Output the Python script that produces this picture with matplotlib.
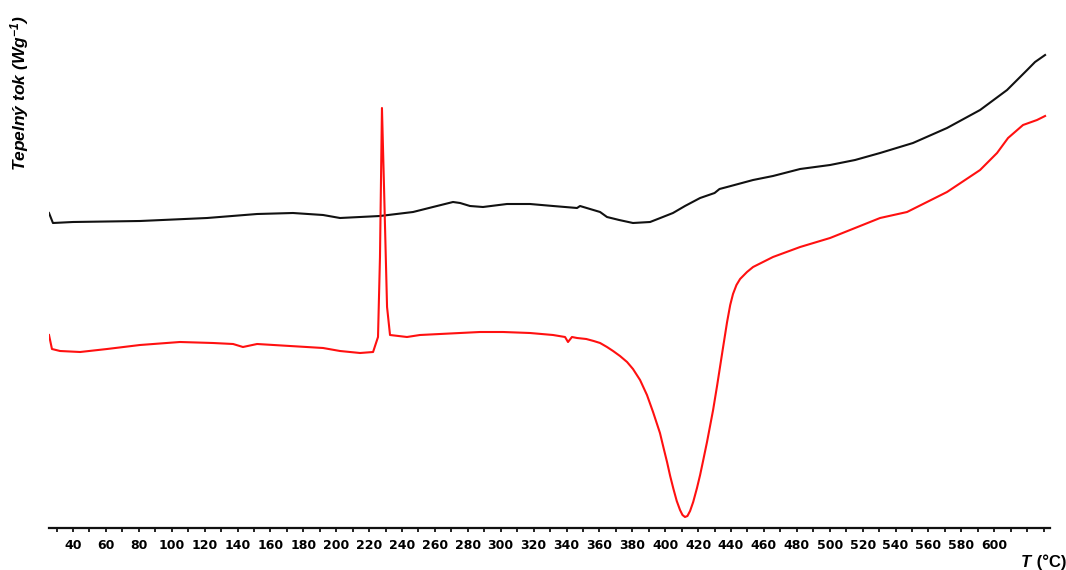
import matplotlib
matplotlib.use("Agg")
import matplotlib.pyplot as plt

# ---- data (temperature in °C, heat flow in arbitrary W/g units) ----
black_T = [25.4, 27.8, 40.0, 80.7, 121.5, 151.9, 173.7, 192.0, 202.3, 214.5,
           226.6, 246.7, 258.8, 271.0, 275.3, 281.3, 289.2, 303.8, 317.8, 331.8,
           346.4, 348.2, 360.4, 364.6, 372.0, 380.4, 390.8, 397.0, 404.7, 412.0,
           421.2, 430.0, 433.0, 437.6, 453.4, 465.5, 482.0, 500.2, 515.4, 530.6,
           550.6, 571.3, 591.4, 607.8, 620.0, 624.8, 630.9]
black_v = [3.15, 3.05, 3.06, 3.07, 3.10, 3.14, 3.15, 3.13, 3.10, 3.11,
           3.12, 3.16, 3.21, 3.26, 3.25, 3.22, 3.21, 3.24, 3.24, 3.22,
           3.20, 3.22, 3.16, 3.11, 3.08, 3.05, 3.06, 3.10, 3.15, 3.22,
           3.30, 3.35, 3.39, 3.41, 3.48, 3.52, 3.59, 3.63, 3.68, 3.75,
           3.85, 4.00, 4.18, 4.38, 4.58, 4.66, 4.73]

red_T = [25.4, 27.2, 32.1, 44.3, 60.7, 80.7, 105.0, 125.1, 137.3, 143.3,
         151.9, 171.9, 192.0, 202.3, 214.5, 222.4, 225.4, 226.6, 227.8, 229.1,
         230.9, 232.7, 243.0, 250.9, 287.4, 301.4, 317.8, 331.8, 339.1, 340.9,
         343.3, 346.4, 352.0, 356.5, 360.4, 364.6, 368.3, 372.5, 376.8, 380.4,
         384.7, 388.9, 392.6, 396.8, 399.0, 401.1, 403.0, 405.0, 407.0, 409.0,
         410.5, 412.0, 413.5, 415.1, 417.0, 419.3, 421.2, 423.0, 425.4, 429.1,
         431.5, 435.1, 437.6, 439.5, 441.2, 443.3, 445.5, 449.7, 453.4, 465.5,
         482.0, 500.2, 515.4, 530.6, 547.0, 571.3, 591.4, 601.7, 608.4, 617.5,
         626.0, 630.9]
red_v = [1.93, 1.79, 1.77, 1.76, 1.79, 1.83, 1.86, 1.85, 1.84, 1.81,
         1.84, 1.82, 1.80, 1.77, 1.75, 1.76, 1.91, 2.71, 4.20, 3.38,
         2.21, 1.93, 1.91, 1.93, 1.96, 1.96, 1.95, 1.93, 1.91, 1.86,
         1.91, 1.90, 1.89, 1.87, 1.85, 1.81, 1.77, 1.72, 1.66, 1.59,
         1.48, 1.33, 1.16, 0.95, 0.80, 0.66, 0.52, 0.39, 0.27, 0.18,
         0.13, 0.11, 0.12, 0.17, 0.26, 0.40, 0.53, 0.67, 0.86, 1.18,
         1.42, 1.80, 2.06, 2.23, 2.34, 2.43, 2.49, 2.56, 2.61, 2.71,
         2.81, 2.90, 3.00, 3.10, 3.16, 3.36, 3.58, 3.75, 3.90, 4.03,
         4.08, 4.12]

tick_values = list(range(30, 631, 10))
tick_labels = [str(t) if (t % 20 == 0 and 40 <= t <= 600) else "" for t in tick_values]

y_label = "Tepelný tok (Wg$^{-1}$)"

# ---- figure ----
plt.rcParams['mathtext.fontset'] = 'custom'
plt.rcParams['mathtext.rm'] = 'Liberation Sans:italic:bold'
plt.rcParams['mathtext.it'] = 'Liberation Sans:italic:bold'
plt.rcParams['mathtext.bf'] = 'Liberation Sans:italic:bold'
plt.rcParams['mathtext.default'] = 'rm'

W, H = 1066, 570
fig = plt.figure(figsize=(W / 100, H / 100), dpi=100)
ax = fig.add_axes([49 / W, 1 - 528 / H, (1050 - 49) / W, (528 - 40) / H])

ax.plot(black_T, black_v, color='#111111', lw=1.5, solid_joinstyle='round')
ax.plot(red_T, red_v, color='#ff1010', lw=1.5, solid_joinstyle='round')

ax.set_xlim(25.4, 633.9)
ax.set_ylim(0, 4.88)

for s in ['top', 'right', 'left']:
    ax.spines[s].set_visible(False)
ax.spines['bottom'].set_linewidth(1.6)
ax.spines['bottom'].set_color('#111111')

ax.set_yticks([])
ax.set_xticks(tick_values)
ax.set_xticklabels(tick_labels, fontfamily='DejaVu Sans', fontweight='bold', fontsize=9)
ax.tick_params(axis='x', direction='out', length=3, width=1.3, pad=5, color='#111111')

fig.text(20 / W, 1 - 93 / H, y_label, rotation=90, ha='center', va='center',
         fontfamily='Liberation Sans', fontstyle='italic', fontweight='bold', fontsize=12.5)

fig.text(1021 / W, 1 - 567 / H, "T", ha='left', va='baseline',
         fontfamily='Liberation Sans', fontstyle='italic', fontweight='bold', fontsize=12)
fig.text(1066 / W, 1 - 567 / H, " (°C)", ha='right', va='baseline',
         fontfamily='Liberation Sans', fontweight='bold', fontsize=12)

fig.savefig('out.png', dpi=100)
